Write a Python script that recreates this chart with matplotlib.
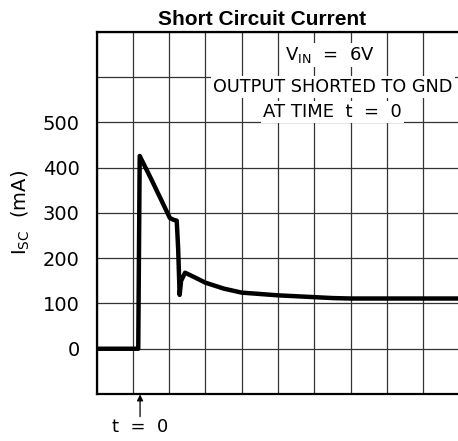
import matplotlib.pyplot as plt

# data (time in grid divisions, current in mA)
t_div = [0, 1.15, 1.19, 1.5, 1.8, 2.02, 2.12, 2.21, 2.25, 2.29, 2.33, 2.44,
         2.7, 3.0, 3.5, 4.0, 4.5, 5.0, 5.5, 6.0, 6.5, 7.0, 8.0, 9.0, 10.0]
i_sc = [0, 0, 426, 376, 326, 289, 285, 283, 220, 119, 150, 168,
        158, 146, 133, 124, 121, 118, 116, 114, 112, 111, 111, 111, 111]

y_ticks = [-100, 0, 100, 200, 300, 400, 500, 600, 700]
y_labels = ["", "0", "100", "200", "300", "400", "500", "", ""]
x_ticks = list(range(0, 11))

fig = plt.figure(figsize=(4.58, 4.41), dpi=100)
ax = fig.add_axes([0.2107, 0.1066, 0.7926, 0.8209])

ax.set_xlim(0, 10)
ax.set_ylim(-100, 700)
ax.set_xticks(x_ticks)
ax.set_yticks(y_ticks)
ax.set_yticklabels(y_labels, fontsize=14, family="DejaVu Sans")
ax.set_xticklabels([])
ax.tick_params(length=0, pad=12)
ax.grid(True, color="#333333", linewidth=0.9)
ax.set_axisbelow(True)
for s in ax.spines.values():
    s.set_linewidth(1.6)

ax.plot(t_div, i_sc, color="black", linewidth=3.2, solid_joinstyle="round",
        solid_capstyle="butt", zorder=5)

# annotation block
box = dict(facecolor="white", edgecolor="none", pad=1.5)
ax.text(6.43, 649, r"V$_{\mathregular{IN}}$  =  6V", ha="center", va="center",
        fontsize=13, bbox=box, zorder=4)
ax.text(6.51, 578, "OUTPUT SHORTED TO GND", ha="center", va="center",
        fontsize=12.7, bbox=box, zorder=4)
ax.text(6.51, 523, "AT TIME  t  =  0", ha="center", va="center",
        fontsize=13, bbox=box, zorder=4)

# title sits a bit left of the axes centre in the original
fig.text(0.572, 0.955, "Short Circuit Current", ha="center", va="center",
         fontsize=15, fontweight="bold", family="Liberation Sans")
ax.set_ylabel(r"I$_{\mathregular{SC}}$  (mA)", fontsize=14, labelpad=8)

# t = 0 marker below the axis
ax.annotate("", xy=(1.2, -101), xycoords="data",
            xytext=(1.2, -150), textcoords="data", annotation_clip=False,
            arrowprops=dict(arrowstyle="-|>", color="black", lw=0.9,
                            mutation_scale=9, shrinkA=0, shrinkB=0))
ax.text(1.2, -174, "t  =  0", ha="center", va="center", fontsize=13,
        clip_on=False)

fig.savefig("out.png", dpi=100)
